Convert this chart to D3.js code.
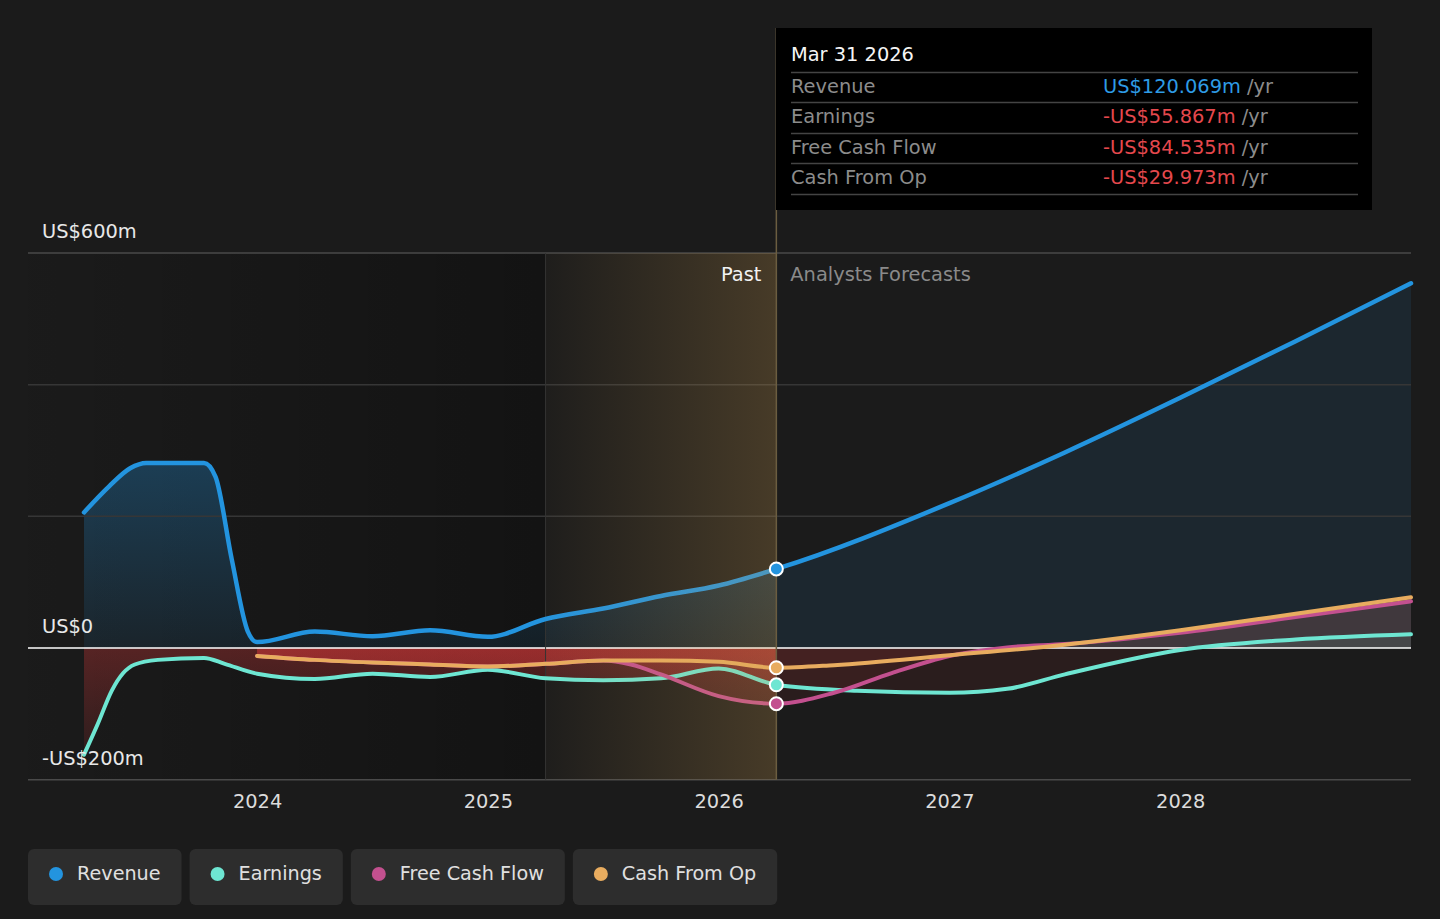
<!DOCTYPE html>
<html><head><meta charset="utf-8">
<script src="https://cdn.jsdelivr.net/npm/d3@7"></script>
<style>
html,body{margin:0;padding:0;background:#1b1b1b;}
svg{display:block;font-family:"DejaVu Sans",sans-serif;}
</style></head>
<body>
<svg id="chart" width="1440" height="919"></svg>
<script>
// ---- data (values in US$ m, x in decimal years) ----
const revenue = [[2023.25,206],[2023.36,246],[2023.45,273],[2023.52,281],[2023.77,281],[2023.82,260],[2023.89,135],[2023.96,25],[2024.0,9],[2024.25,25],[2024.5,18],[2024.75,27],[2025.0,17],[2025.25,44],[2025.5,60],[2025.75,79],[2026.0,95],[2026.25,120.069],[2027.0,220],[2027.5,297],[2028.0,380],[2028.5,466],[2029.0,554]];
const earnings = [[2023.25,-162],[2023.31,-115],[2023.37,-65],[2023.42,-38],[2023.47,-25],[2023.57,-18],[2023.77,-15],[2023.86,-24],[2024.0,-39],[2024.25,-47],[2024.5,-39],[2024.75,-44],[2025.0,-33],[2025.25,-46],[2025.5,-49],[2025.75,-46],[2026.0,-31],[2026.25,-55.867],[2026.6,-65],[2027.0,-68],[2027.25,-62],[2027.5,-40],[2028.0,-3],[2028.5,13],[2029.0,21]];
const freeCashFlow = [[2024.0,-12],[2024.25,-18],[2024.5,-22],[2024.75,-25],[2025.0,-28],[2025.25,-24],[2025.5,-19],[2025.62,-25],[2025.75,-40],[2026.0,-73],[2026.25,-84.535],[2026.5,-68],[2026.75,-38],[2027.0,-12],[2027.25,1],[2027.5,6],[2028.0,23],[2028.5,47],[2029.0,71]];
const cashFromOp = [[2024.0,-12],[2024.25,-18],[2024.5,-22],[2024.75,-25],[2025.0,-28],[2025.25,-24],[2025.5,-19],[2025.75,-19],[2026.0,-21],[2026.25,-29.973],[2026.5,-26],[2027.0,-11],[2027.5,5],[2028.0,27],[2028.5,52],[2029.0,77]];
const seriesNames = ["Revenue","Earnings","Free Cash Flow","Cash From Op"];
const seriesColors = ["#2394df","#6ee6d2","#c3508f","#e8ac5f"];
const xTickValues = [2024,2025,2026,2027,2028];
const yGridValues = [-200,0,200,400,600];
const yLabelValues = [600,0,-200];
const yLabelText = ["US$600m","US$0","-US$200m"];
const tooltipTitle = "Mar 31 2026";
const tooltipValues = ["US$120.069m","-US$55.867m","-US$84.535m","-US$29.973m"];
const pastEnd = 2026.25, bandStart = 2025.25;

const FS = 19.4;
const svg = d3.select("#chart");
const W = 1440, H = 919;
const plotL = 28, plotR = 1411;
const x = d3.scaleLinear().domain([2023.25, 2029.0]).range([84, 1411]);
const y = d3.scaleLinear().domain([-200, 600]).range([779.7, 253]);
const y0 = y(0);

svg.append("rect").attr("width",W).attr("height",H).attr("fill","#1b1b1b");

const defs = svg.append("defs");
function lg(id, attrs, stops){
  const g = defs.append("linearGradient").attr("id",id).attr("gradientUnits","userSpaceOnUse");
  Object.entries(attrs).forEach(([k,v])=>g.attr(k,v));
  stops.forEach(s=>g.append("stop").attr("offset",s[0]).attr("stop-color",s[1]).attr("stop-opacity",s[2]));
}
lg("pastBg",{x1:plotL,x2:x(bandStart),y1:0,y2:0},[[0,"#000",0.02],[1,"#000",0.3]]);
lg("band",{x1:x(bandStart),x2:x(pastEnd),y1:0,y2:0},[[0,"rgb(210,160,80)",0.02],[1,"rgb(210,160,80)",0.24]]);
lg("revPast",{x1:0,x2:0,y1:y(281),y2:y0},[[0,"rgb(35,148,223)",0.3],[1,"rgb(35,148,223)",0.09]]);
lg("redPast",{x1:0,x2:0,y1:y0,y2:y(-200)},[[0,"rgb(205,55,55)",0.34],[1,"rgb(205,55,55)",0.06]]);

defs.append("clipPath").attr("id","clipPos").append("rect").attr("x",0).attr("y",0).attr("width",W).attr("height",y0);
defs.append("clipPath").attr("id","clipNeg").append("rect").attr("x",0).attr("y",y0).attr("width",W).attr("height",H-y0);

svg.append("rect").attr("x",plotL).attr("y",y(600)).attr("width",x(bandStart)-plotL).attr("height",y(-200)-y(600)).attr("fill","url(#pastBg)");

const area = d3.area().x(d=>x(d[0])).y0(y0).y1(d=>y(d[1])).curve(d3.curveMonotoneX);
const line = d3.line().x(d=>x(d[0])).y(d=>y(d[1])).curve(d3.curveMonotoneX);
const past = s => s.filter(d=>d[0]<=pastEnd);
const fut = s => s.filter(d=>d[0]>=pastEnd);

const fills = svg.append("g");
fills.append("path").attr("d",area(past(revenue))).attr("fill","url(#revPast)").attr("clip-path","url(#clipPos)");
fills.append("path").attr("d",area(fut(revenue))).attr("fill","rgba(35,148,223,0.1)").attr("clip-path","url(#clipPos)");
[earnings,freeCashFlow,cashFromOp].forEach((s,i)=>{
  const c = d3.color(seriesColors[i+1]); c.opacity = 0.1;
  fills.append("path").attr("d",area(past(s))).attr("fill","url(#redPast)").attr("clip-path","url(#clipNeg)");
  fills.append("path").attr("d",area(fut(s))).attr("fill","rgba(205,55,55,0.09)").attr("clip-path","url(#clipNeg)");
  fills.append("path").attr("d",area(fut(s))).attr("fill",c.toString()).attr("clip-path","url(#clipPos)");
});

svg.append("g").selectAll("line").data(yGridValues.filter(v=>v!==0)).join("line")
  .attr("x1",plotL).attr("x2",plotR).attr("y1",d=>y(d)).attr("y2",d=>y(d))
  .attr("stroke",d=>(d===600||d===-200)?"#4a4a4a":"#363636").attr("stroke-width",1.5);
svg.append("line").attr("x1",plotL).attr("x2",plotR).attr("y1",y0).attr("y2",y0).attr("stroke","#ffffff").attr("stroke-width",1.5);

svg.append("line").attr("x1",x(bandStart)).attr("x2",x(bandStart)).attr("y1",y(600)).attr("y2",y(-200)).attr("stroke","#333").attr("stroke-width",1);

const allSeries = [revenue,earnings,freeCashFlow,cashFromOp];
allSeries.forEach((s,i)=>{
  svg.append("path").attr("d",line(s)).attr("fill","none").attr("stroke",seriesColors[i])
    .attr("stroke-width",i===0?4.5:4).attr("stroke-linecap","round");
});

svg.append("rect").attr("x",x(bandStart)).attr("y",y(600)).attr("width",x(pastEnd)-x(bandStart)).attr("height",y(-200)-y(600)).attr("fill","url(#band)");

svg.append("line").attr("x1",x(pastEnd)).attr("x2",x(pastEnd)).attr("y1",28).attr("y2",y(-200)).attr("stroke","#6b5d40").attr("stroke-width",1.5);

allSeries.forEach((s,i)=>{
  const d = s.find(p=>p[0]===pastEnd);
  svg.append("circle").attr("cx",x(d[0])).attr("cy",y(d[1])).attr("r",6.5)
    .attr("fill",seriesColors[i]).attr("stroke","#fff").attr("stroke-width",2);
});

svg.append("text").attr("x",x(pastEnd)-15).attr("y",281).attr("text-anchor","end").attr("fill","#f2f2f2").attr("font-size",FS).text("Past");
svg.append("text").attr("x",x(pastEnd)+14).attr("y",281).attr("fill","#8a8a8a").attr("font-size",FS).text("Analysts Forecasts");

svg.append("g").selectAll("text").data(yLabelValues).join("text")
  .attr("x",42).attr("y",d=>y(d)-15).attr("fill","#e8e8e8").attr("font-size",FS)
  .text((d,i)=>yLabelText[i]);

const xAxis = d3.axisBottom(x).tickValues(xTickValues).tickFormat(d3.format("d")).tickSize(0).tickPadding(15);
const gx = svg.append("g").attr("transform",`translate(0,${y(-200)})`).call(xAxis);
gx.select(".domain").remove();
gx.selectAll("text").attr("fill","#dcdcdc").attr("font-size",FS).attr("font-family","DejaVu Sans, sans-serif");

const tt = svg.append("g");
tt.append("rect").attr("x",776).attr("y",28).attr("width",596).attr("height",182).attr("fill","#000");
tt.append("text").attr("x",791).attr("y",61).attr("fill","#f5f5f5").attr("font-size",FS).text(tooltipTitle);
const sepY = [72.5,102.5,133.5,163.5,194.5];
tt.selectAll("line.sep").data(sepY).join("line").attr("class","sep")
  .attr("x1",791).attr("x2",1358).attr("y1",d=>d).attr("y2",d=>d).attr("stroke","#444").attr("stroke-width",1.5);
const rowY = [93,123,154,184];
seriesNames.forEach((n,i)=>{
  tt.append("text").attr("x",791).attr("y",rowY[i]).attr("fill","#8c8c8c").attr("font-size",FS).text(n);
  const t = tt.append("text").attr("x",1103).attr("y",rowY[i]).attr("font-size",FS);
  t.append("tspan").attr("fill",tooltipValues[i].startsWith("-")?"#e5484d":"#2e9be5").text(tooltipValues[i]);
  t.append("tspan").attr("fill","#8c8c8c").text(" /yr");
});

let lx = 28;
seriesNames.forEach((n,i)=>{
  const g = svg.append("g");
  const r = g.append("rect").attr("x",lx).attr("y",849).attr("height",56).attr("rx",6).attr("fill","#2d2d2d");
  g.append("circle").attr("cx",lx+28).attr("cy",874).attr("r",7).attr("fill",seriesColors[i]);
  const t = g.append("text").attr("x",lx+49).attr("y",880).attr("fill","#e0e0e0").attr("font-size",19.2).text(n);
  const w = 49 + t.node().getComputedTextLength() + 21;
  r.attr("width",w);
  lx += w + 8;
});
</script>
</body></html>
